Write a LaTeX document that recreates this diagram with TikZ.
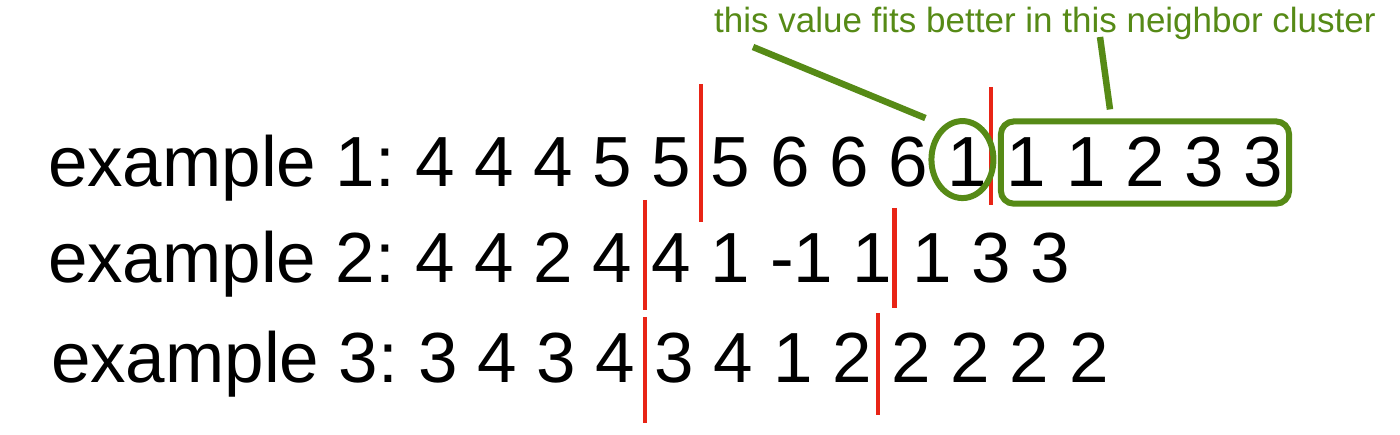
\documentclass[tikz,border=0pt]{standalone}
\usepackage{fontspec}
\setmainfont{Liberation Sans}
\usetikzlibrary{positioning,fit,calc,shapes.geometric}
\definecolor{cutred}{RGB}{232,36,22}
\definecolor{leaf}{RGB}{86,138,22}

\begin{document}
\begin{tikzpicture}[x=1pt,y=-1pt,
    big/.style={font=\fontsize{71}{80}\selectfont,inner sep=0pt,outer sep=0pt},
    cutline/.style={cutred,line width=4.5pt},
    ring/.style={draw=leaf,line width=6pt,ellipse,minimum width=62pt,minimum height=77pt,inner sep=0pt},
    cluster/.style={draw=leaf,line width=6pt,rounded corners=13pt,inner xsep=6pt,inner ysep=16pt},
    callout/.style={leaf,line width=6.5pt},
    note/.style={leaf,font=\fontsize{35}{40}\selectfont,inner sep=0pt}]
    \useasboundingbox (0,0) rectangle (1400,435);
    \foreach \r/\yb/\xb/\vals in {
      1/187/48/{4,4,4,5,5,5,6,6,6,1,1,1,2,3,3},
      2/283/48/{4,4,2,4,4,1,-1,1,1,3,3},
      3/383/51/{3,4,3,4,3,4,1,2,2,2,2,2}}{
      \node[big,anchor=base west] (r\r-0) at (\xb,\yb) {example \r:};
      \foreach \v [count=\i, remember=\i as \j (initially 0)] in \vals
        \node[big,base right=19.7pt of r\r-\j] (r\r-\i) {\v};
    }
    \foreach \r/\k/\dx/\up/\dn in {1/5/10/103/35, 1/10/4/100/18, 2/4/13/83/27,
                                   2/8/2/75/25, 3/4/10/66/40, 3/8/6/70/32}
      \draw[cutline] ([xshift=\dx pt,yshift=\up pt]r\r-\k.base east) -- ++(0,{\up+\dn});
    \node[ring] (odd) at ([xshift=-5pt,yshift=3pt]r1-10.center) {};
    \node[cluster,fit=(r1-11)(r1-15)] (nbr) {};
    \node[note,anchor=base west] (note) at (714,33) {this value fits better in this neighbor cluster};
    \draw[callout] ([xshift=39pt,yshift=-14pt]note.base west) -- ([xshift=-37pt,yshift=41.5pt]odd.center);
    \draw[callout] ([xshift=386pt,yshift=-4pt]note.base west) -- ([xshift=-35pt,yshift=9pt]nbr.north);
\end{tikzpicture}
\end{document}
